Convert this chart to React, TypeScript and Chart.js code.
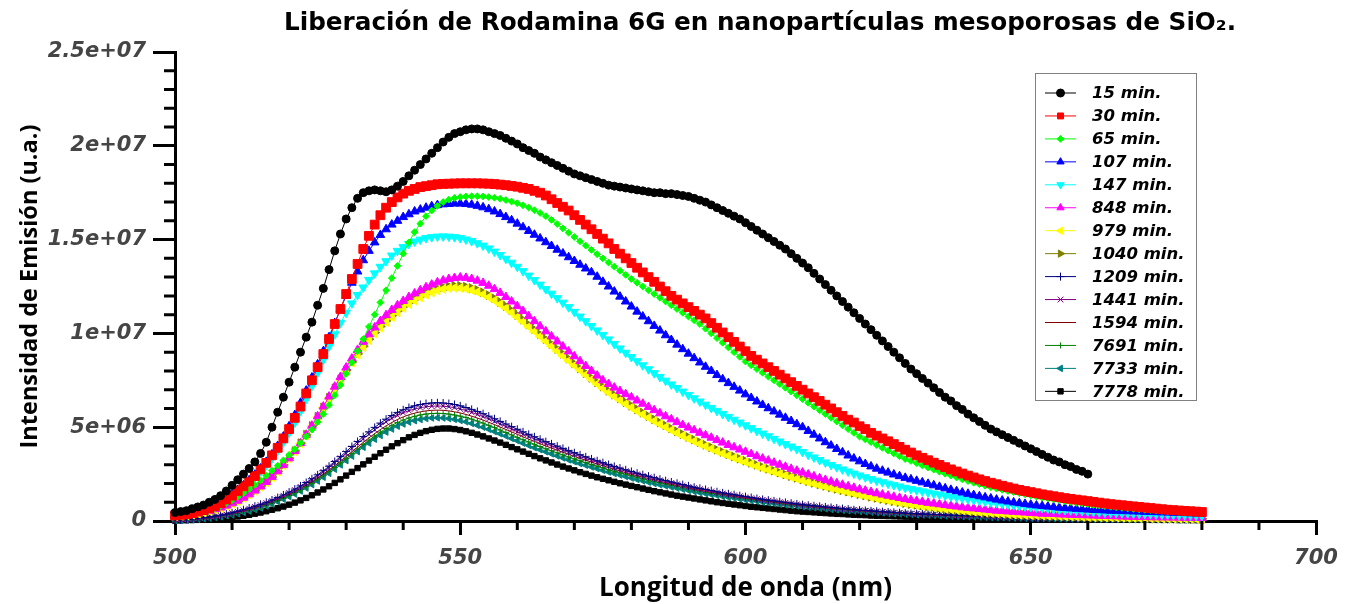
import { useEffect, useRef } from 'react';
import { Chart, registerables } from 'chart.js';
import { drawPoint } from 'chart.js/helpers';

Chart.register(...registerables);

const FONT_WIDE = '"DejaVu Sans", "Noto Sans", sans-serif';
const FONT_NARROW = '"Open Sans", "Noto Sans", "DejaVu Sans", sans-serif';

// Emission intensities are stored in units of 1e5 (u.a.), one value per nanometre.
const INTENSITY_UNIT = 1e5;

const wavelengths = [
  500, 501, 502, 503, 504, 505, 506, 507, 508, 509,
  510, 511, 512, 513, 514, 515, 516, 517, 518, 519,
  520, 521, 522, 523, 524, 525, 526, 527, 528, 529,
  530, 531, 532, 533, 534, 535, 536, 537, 538, 539,
  540, 541, 542, 543, 544, 545, 546, 547, 548, 549,
  550, 551, 552, 553, 554, 555, 556, 557, 558, 559,
  560, 561, 562, 563, 564, 565, 566, 567, 568, 569,
  570, 571, 572, 573, 574, 575, 576, 577, 578, 579,
  580, 581, 582, 583, 584, 585, 586, 587, 588, 589,
  590, 591, 592, 593, 594, 595, 596, 597, 598, 599,
  600, 601, 602, 603, 604, 605, 606, 607, 608, 609,
  610, 611, 612, 613, 614, 615, 616, 617, 618, 619,
  620, 621, 622, 623, 624, 625, 626, 627, 628, 629,
  630, 631, 632, 633, 634, 635, 636, 637, 638, 639,
  640, 641, 642, 643, 644, 645, 646, 647, 648, 649,
  650, 651, 652, 653, 654, 655, 656, 657, 658, 659,
  660, 661, 662, 663, 664, 665, 666, 667, 668, 669,
  670, 671, 672, 673, 674, 675, 676, 677, 678, 679,
  680,
];

const min15 = [
  4.5, 5, 5.5, 6.5, 7.5, 8.5, 10, 11.5, 13.5, 16,
  19, 22, 25, 28, 31.5, 36, 42, 50, 58, 66,
  74, 82, 90, 98, 106, 115, 124, 134, 144, 153,
  161, 167, 172, 175, 176, 176.5, 176, 175.5, 176.5, 178.5,
  181, 184, 187, 190, 193, 196, 199, 202, 204.5, 206.5,
  207.5, 208.5, 209, 209, 208.5, 207.5, 206.5, 205.5, 204, 202.5,
  201, 199, 197.5, 196, 194, 192.5, 191, 189.5, 188, 186.5,
  185, 184, 183, 182, 181, 180, 179, 178.5, 178, 177.5,
  177, 176.5, 176, 175.5, 175, 175, 174.5, 174.5, 174, 173.5,
  173, 172, 171, 170, 168.5, 167, 165.5, 164, 162.5, 161,
  159, 157, 155, 153, 151, 149, 147, 145, 142.5, 140,
  137.5, 135, 132, 129, 126, 123, 120, 117, 114, 111,
  108, 105, 102, 99, 96, 93, 90, 87, 84, 81,
  78.5, 76, 73.5, 71, 68.5, 66, 64, 61.5, 59.5, 57,
  55, 53, 51, 49, 47.5, 46, 44.5, 43, 41.5, 40,
  38.5, 37, 35.5, 34, 32.5, 31.5, 30, 29, 27.5, 26.5,
  25,
];

const min30 = [
  3, 3.3, 3.7, 4.2, 5, 5.8, 6.8, 8, 9.5, 11.5,
  13.5, 16, 18.5, 21, 24, 27.5, 31, 35, 39, 44,
  49, 55, 61, 68, 75, 82, 89, 97, 105, 113,
  121, 129, 137, 145, 152, 158, 163, 167, 170, 172.5,
  174.5, 176, 177, 178, 178.5, 179, 179.5, 179.7, 179.8, 179.9,
  180, 180, 180, 180, 179.9, 179.8, 179.6, 179.3, 179, 178.6,
  178.2, 177.6, 177, 176, 175, 173.5, 171.5, 169.5, 167.5, 165.5,
  163, 160.5, 158, 155.5, 153, 150.5, 148, 145, 142.5, 140,
  137.5, 135, 132.5, 130, 127.5, 125, 122.5, 120, 118, 116,
  114, 112, 110, 108, 105.5, 103, 100.5, 98, 95.5, 93,
  90.5, 88, 86, 84, 82, 80, 78, 76, 74, 72,
  70, 68, 66, 64, 62, 60, 58, 56, 54, 52.5,
  50.5, 49, 47, 45.5, 44, 42.5, 41, 39.5, 38, 36.5,
  35, 33.7, 32.4, 31.1, 29.9, 28.7, 27.5, 26.4, 25.3, 24.2,
  23.2, 22.2, 21.3, 20.4, 19.6, 18.8, 18, 17.3, 16.6, 16,
  15.4, 14.8, 14.2, 13.7, 13.2, 12.7, 12.2, 11.8, 11.4, 11,
  10.6, 10.2, 9.8, 9.4, 9, 8.7, 8.4, 8.1, 7.8, 7.5,
  7.2, 6.9, 6.6, 6.3, 6, 5.8, 5.6, 5.4, 5.2, 5,
  4.8,
];

const min65 = [
  2.5, 2.8, 3.2, 3.7, 4.3, 5, 5.8, 6.8, 8, 9.5,
  11, 12.8, 14.8, 17, 19.3, 21.7, 24.2, 26.8, 29.5, 32.3,
  35.2, 38.3, 41.5, 45, 48.7, 52.7, 57, 61.8, 67, 72.5,
  78.5, 84.5, 90.5, 97, 103.5, 110, 116.5, 123, 129.5, 136,
  142.5, 148.5, 154, 158.5, 162.5, 165.5, 168, 170, 171.3, 172.2,
  172.7, 173, 173.1, 173.1, 173, 172.7, 172.3, 171.8, 171.1, 170.3,
  169.4, 168.3, 167.1, 165.7, 164.2, 162.5, 160.5, 158.3, 156, 153.7,
  151.4, 149.1, 146.8, 144.5, 142.2, 140, 137.8, 135.6, 133.4, 131.2,
  129, 127, 125, 123, 121, 119, 117, 115, 113, 111,
  109, 107, 105, 102.5, 100, 97.5, 95, 92.5, 90, 87.5,
  85, 83, 81, 79, 77, 75, 73, 71, 69, 67,
  65, 63, 61, 59, 57, 55, 53, 51, 49, 47,
  45, 43.5, 42, 40.5, 39, 37.5, 36, 34.5, 33, 32,
  30.8, 29.6, 28.5, 27.4, 26.3, 25.2, 24.2, 23.2, 22.2, 21.3,
  20.4, 19.6, 18.8, 18, 17.3, 16.6, 16, 15.4, 14.8, 14.2,
  13.6, 13, 12.5, 12, 11.5, 11, 10.5, 10.1, 9.7, 9.3,
  8.9, 8.5, 8.2, 7.9, 7.6, 7.3, 7, 6.7, 6.4, 6.2,
  6, 5.8, 5.6, 5.4, 5.2, 5, 4.8, 4.7, 4.6, 4.5,
  4.4,
];

const min107 = [
  3.5, 3.9, 4.4, 5, 5.8, 6.7, 7.8, 9, 10.5, 12.3,
  14.3, 16.5, 19, 21.7, 24.7, 28, 31.5, 35.5, 40, 45,
  50.5, 56.5, 63, 69.5, 76.5, 83.5, 90.5, 98, 105.5, 113,
  120, 127, 133, 139, 144, 148.5, 152.5, 155.5, 158, 160,
  162, 163.5, 165, 166, 167, 167.8, 168.4, 168.8, 169, 169.2,
  169.2, 169, 168.6, 168, 167.2, 166.2, 165, 163.6, 162, 160.3,
  158.5, 156.6, 154.6, 152.6, 150.6, 148.6, 146.6, 144.6, 142.6, 140.6,
  138.6, 136.6, 134.6, 132.6, 130.2, 127.5, 125, 122.3, 119.6, 117,
  114.3, 111.6, 109, 106.5, 104, 101.5, 99, 96.5, 94, 91.6,
  89.2, 86.8, 84.5, 82.2, 80, 77.8, 75.6, 73.5, 71.5, 69.5,
  67.5, 65.6, 63.7, 61.9, 60.1, 58.4, 56.7, 55, 53.3, 51.6,
  50, 48, 46, 44, 42, 40.2, 38.4, 36.6, 34.9, 33.3,
  31.8, 30.4, 29.1, 27.9, 26.8, 25.8, 24.8, 23.9, 23, 22.2,
  21.4, 20.6, 19.8, 19, 18.2, 17.4, 16.6, 15.9, 15.2, 14.5,
  13.8, 13.2, 12.6, 12, 11.4, 10.9, 10.4, 9.9, 9.5, 9.1,
  8.7, 8.3, 8, 7.7, 7.4, 7.1, 6.9, 6.7, 6.5, 6.3,
  6.1, 5.9, 5.8, 5.6, 5.5, 5.4, 5.3, 5.2, 5.1, 5,
  4.9, 4.8, 4.7, 4.6, 4.5, 4.4, 4.3, 4.2, 4.1, 4,
  3.9,
];

const min147 = [
  4, 4.4, 4.9, 5.5, 6.2, 7, 8, 9.2, 10.6, 12.2,
  14, 16, 18.3, 20.8, 23.5, 26.5, 29.8, 33.4, 37.5, 42,
  47, 52.5, 58.5, 65, 72, 79, 86, 93, 99.5, 105.5,
  111, 116, 120.5, 124.5, 128.5, 132, 135.5, 138.5, 141.5, 144,
  146, 147.7, 149, 150, 150.8, 151.3, 151.6, 151.7, 151.6, 151.3,
  150.8, 150.1, 149.2, 148.1, 146.8, 145.3, 143.6, 141.8, 139.8, 137.7,
  135.5, 133.2, 130.8, 128.4, 126, 123.6, 121.2, 118.8, 116.4, 114,
  111.5, 109, 106.5, 104, 101.6, 99.2, 96.8, 94.4, 92, 89.7,
  87.4, 85.2, 83, 80.9, 78.8, 76.8, 74.8, 72.8, 70.9, 69,
  67.2, 65.4, 63.7, 62, 60.3, 58.7, 57.1, 55.5, 54, 52.5,
  51, 49.5, 48, 46.6, 45.2, 43.8, 42.4, 41, 39.7, 38.4,
  36.8, 35.3, 33.9, 32.5, 31.2, 29.9, 28.7, 27.5, 26.4, 25.3,
  24.3, 23.3, 22.4, 21.5, 20.7, 19.9, 19.1, 18.4, 17.7, 17,
  16.4, 15.8, 15.2, 14.6, 14.1, 13.6, 13.1, 12.6, 12.1, 11.6,
  11.2, 10.8, 10.4, 10, 9.6, 9.2, 8.8, 8.4, 8.1, 7.8,
  7.5, 7.2, 6.9, 6.6, 6.3, 6.1, 5.9, 5.7, 5.5, 5.3,
  5.1, 4.9, 4.7, 4.5, 4.4, 4.3, 4.2, 4.1, 4, 3.9,
  3.8, 3.7, 3.6, 3.5, 3.4, 3.3, 3.2, 3.1, 3, 2.9,
  2.8,
];

const min848 = [
  2.8, 3, 3.3, 3.7, 4.2, 4.8, 5.5, 6.3, 7.2, 8.2,
  9.4, 10.8, 12.4, 14.2, 16.2, 18.4, 20.8, 23.5, 26.5, 29.8,
  33.4, 37.3, 41.5, 46, 50.8, 55.8, 61, 66.3, 71.6, 76.8,
  81.8, 86.6, 91.2, 95.5, 99.5, 103.2, 106.6, 109.7, 112.5, 115,
  117.3, 119.4, 121.3, 123, 124.6, 126, 127.2, 128.2, 129, 129.5,
  129.8, 129.6, 129, 128.1, 126.9, 125.4, 123.6, 121.6, 119.4, 117,
  114.5, 111.9, 109.2, 106.5, 103.8, 101.1, 98.4, 95.7, 93, 90.4,
  87.8, 85.2, 82.6, 80, 77.5, 75, 73, 71.1, 69.3, 67.6,
  65.9, 64.2, 62.5, 60.8, 59.1, 57.4, 55.8, 54.2, 52.7, 51.2,
  49.8, 48.4, 47, 45.7, 44.4, 43.1, 41.8, 40.5, 39.3, 38.1,
  36.9, 35.7, 34.5, 33.3, 32.2, 31.1, 30, 28.9, 27.8, 26.8,
  25.8, 24.8, 23.8, 22.8, 21.9, 21, 20.1, 19.3, 18.5, 17.7,
  16.9, 16.2, 15.5, 14.8, 14.1, 13.5, 12.9, 12.3, 11.7, 11.2,
  10.7, 10.2, 9.7, 9.3, 8.9, 8.5, 8.1, 7.7, 7.3, 7,
  6.7, 6.4, 6.1, 5.8, 5.5, 5.3, 5.1, 4.9, 4.7, 4.5,
  4.3, 4.1, 3.9, 3.8, 3.7, 3.5, 3.4, 3.3, 3.2, 3.1,
  3, 2.9, 2.8, 2.7, 2.6, 2.5, 2.4, 2.3, 2.2, 2.2,
  2.1, 2, 2, 1.9, 1.9, 1.8, 1.8, 1.7, 1.7, 1.6,
  1.6,
];

const min979 = [
  2.5, 2.7, 3, 3.4, 3.9, 4.5, 5.2, 6, 6.9, 8,
  9.2, 10.6, 12.2, 14, 16, 18.2, 20.6, 23.3, 26.3, 29.6,
  33.2, 37.1, 41.3, 45.8, 50.5, 55.4, 60.4, 65.4, 70.4, 75.2,
  79.9, 84.4, 88.6, 92.6, 96.3, 99.8, 103, 106, 108.7, 111.2,
  113.5, 115.6, 117.4, 119.1, 120.6, 121.8, 122.8, 123.6, 124.1, 124.3,
  124.2, 123.8, 123.1, 122.1, 120.8, 119.3, 117.5, 115.5, 113.4, 111.1,
  108.7, 106.2, 103.6, 101, 98.4, 95.8, 93.2, 90.6, 88, 85.4,
  82.9, 80.4, 77.9, 75.4, 73, 70.7, 68.5, 66.4, 64.4, 62.4,
  60.5, 58.6, 56.8, 55, 53.3, 51.6, 50, 48.4, 46.9, 45.4,
  43.9, 42.5, 41.1, 39.8, 38.5, 37.2, 36, 34.8, 33.6, 32.5,
  31.4, 30.3, 29.2, 28.2, 27.2, 26.2, 25.2, 24.3, 23.4, 22.5,
  21.6, 20.7, 19.9, 19.1, 18.3, 17.5, 16.8, 16.1, 15.4, 14.7,
  14, 13.3, 12.7, 12.1, 11.5, 10.9, 10.3, 9.8, 9.3, 8.8,
  8.4, 8, 7.6, 7.2, 6.8, 6.5, 6.2, 5.9, 5.6, 5.3,
  5, 4.7, 4.5, 4.3, 4.1, 3.9, 3.7, 3.5, 3.3, 3.2,
  3.1, 3, 2.9, 2.8, 2.7, 2.6, 2.5, 2.4, 2.3, 2.2,
  2.1, 2, 2, 1.9, 1.9, 1.8, 1.8, 1.7, 1.7, 1.6,
  1.6, 1.5, 1.5, 1.4, 1.4, 1.3, 1.3, 1.2, 1.2, 1.1,
  1.1,
];

const min1040 = [
  2.6, 2.8, 3.1, 3.5, 4, 4.6, 5.3, 6.1, 7, 8.1,
  9.3, 10.7, 12.3, 14.1, 16.1, 18.3, 20.8, 23.5, 26.5, 29.8,
  33.4, 37.3, 41.5, 46, 50.7, 55.6, 60.6, 65.7, 70.7, 75.6,
  80.3, 84.8, 89.1, 93.1, 96.9, 100.4, 103.7, 106.7, 109.5, 112,
  114.3, 116.4, 118.3, 120, 121.5, 122.8, 123.9, 124.7, 125.2, 125.4,
  125.3, 124.9, 124.2, 123.2, 121.9, 120.4, 118.6, 116.6, 114.5, 112.2,
  109.8, 107.3, 104.7, 102.1, 99.5, 96.9, 94.3, 91.7, 89.1, 86.5,
  83.9, 81.3, 78.8, 76.3, 73.9, 71.6, 69.4, 67.3, 65.3, 63.3,
  61.4, 59.5, 57.7, 55.9, 54.2, 52.5, 50.9, 49.3, 47.8, 46.3,
  44.8, 43.4, 42, 40.6, 39.3, 38, 36.8, 35.6, 34.4, 33.2,
  32.1, 31, 29.9, 28.8, 27.8, 26.8, 25.8, 24.8, 23.9, 23,
  22.1, 21.2, 20.3, 19.5, 18.7, 17.9, 17.1, 16.4, 15.7, 15,
  14.3, 13.6, 12.9, 12.3, 11.7, 11.1, 10.5, 10, 9.5, 9,
  8.6, 8.2, 7.8, 7.4, 7, 6.6, 6.3, 6, 5.7, 5.4,
  5.1, 4.8, 4.6, 4.4, 4.2, 4, 3.8, 3.6, 3.4, 3.3,
  3.2, 3.1, 3, 2.9, 2.8, 2.7, 2.6, 2.5, 2.4, 2.3,
  2.2, 2.1, 2, 2, 1.9, 1.9, 1.8, 1.8, 1.7, 1.7,
  1.6, 1.6, 1.5, 1.5, 1.4, 1.4, 1.3, 1.3, 1.2, 1.2,
  1.2,
];

const min1209 = [
  0.5, 0.6, 0.8, 1, 1.3, 1.7, 2.1, 2.6, 3.1, 3.7,
  4.4, 5.2, 6, 6.9, 7.9, 8.9, 10, 11.2, 12.5, 13.9,
  15.4, 17, 18.7, 20.5, 22.5, 24.6, 26.8, 29.2, 31.7, 34.3,
  37, 39.7, 42.4, 45, 47.5, 49.9, 52.2, 54.3, 56.2, 57.9,
  59.3, 60.5, 61.4, 62.1, 62.6, 62.9, 63, 62.9, 62.6, 62.1,
  61.4, 60.5, 59.5, 58.4, 57.2, 55.9, 54.5, 53.1, 51.7, 50.3,
  48.9, 47.5, 46.2, 44.9, 43.6, 42.3, 41.1, 39.9, 38.7, 37.5,
  36.4, 35.3, 34.2, 33.1, 32.1, 31.1, 30.1, 29.1, 28.2, 27.3,
  26.4, 25.5, 24.7, 23.9, 23.1, 22.3, 21.5, 20.8, 20.1, 19.4,
  18.7, 18, 17.4, 16.8, 16.2, 15.6, 15, 14.5, 14, 13.5,
  13, 12.5, 12, 11.5, 11.1, 10.7, 10.3, 9.9, 9.5, 9.1,
  8.7, 8.4, 8.1, 7.8, 7.5, 7.2, 6.9, 6.6, 6.3, 6,
  5.8, 5.6, 5.4, 5.2, 5, 4.8, 4.6, 4.4, 4.2, 4,
  3.9, 3.8, 3.6, 3.5, 3.4, 3.2, 3.1, 3, 2.9, 2.8,
  2.7, 2.6, 2.5, 2.4, 2.3, 2.2, 2.1, 2, 1.9, 1.9,
  1.8, 1.7, 1.7, 1.6, 1.6, 1.5, 1.5, 1.4, 1.4, 1.3,
  1.3, 1.3, 1.2, 1.2, 1.2, 1.1, 1.1, 1.1, 1.1, 1,
  1, 1, 1, 0.9, 0.9, 0.9, 0.9, 0.9, 0.8, 0.8,
  0.8,
];

const min1441 = [
  0.5, 0.6, 0.7, 0.9, 1.2, 1.6, 2, 2.5, 3, 3.6,
  4.2, 4.9, 5.7, 6.6, 7.5, 8.5, 9.6, 10.8, 12.1, 13.5,
  15, 16.5, 18.2, 20, 21.9, 24, 26.2, 28.5, 31, 33.5,
  36.1, 38.7, 41.3, 43.8, 46.3, 48.6, 50.8, 52.8, 54.7, 56.3,
  57.7, 58.8, 59.7, 60.4, 60.9, 61.2, 61.3, 61.2, 60.9, 60.4,
  59.7, 58.9, 57.9, 56.8, 55.6, 54.4, 53.1, 51.7, 50.3, 49,
  47.6, 46.3, 45, 43.7, 42.5, 41.2, 40, 38.8, 37.7, 36.5,
  35.4, 34.3, 33.3, 32.3, 31.3, 30.3, 29.3, 28.4, 27.5, 26.6,
  25.7, 24.9, 24.1, 23.3, 22.5, 21.7, 21, 20.3, 19.6, 18.9,
  18.2, 17.6, 17, 16.4, 15.8, 15.2, 14.7, 14.2, 13.7, 13.2,
  12.7, 12.2, 11.7, 11.3, 10.9, 10.5, 10.1, 9.7, 9.3, 8.9,
  8.5, 8.2, 7.9, 7.6, 7.3, 7, 6.7, 6.4, 6.2, 5.9,
  5.7, 5.5, 5.3, 5.1, 4.9, 4.7, 4.5, 4.3, 4.1, 3.9,
  3.8, 3.7, 3.5, 3.4, 3.3, 3.1, 3, 2.9, 2.8, 2.7,
  2.6, 2.5, 2.4, 2.3, 2.2, 2.1, 2, 1.9, 1.8, 1.8,
  1.7, 1.6, 1.6, 1.5, 1.5, 1.4, 1.4, 1.3, 1.3, 1.2,
  1.2, 1.2, 1.1, 1.1, 1.1, 1, 1, 1, 1, 0.9,
  0.9, 0.9, 0.9, 0.8, 0.8, 0.8, 0.8, 0.8, 0.7, 0.7,
  0.7,
];

const min1594 = [
  0.4, 0.5, 0.7, 0.9, 1.1, 1.4, 1.8, 2.3, 2.8, 3.4,
  4, 4.7, 5.4, 6.2, 7.1, 8.1, 9.2, 10.4, 11.6, 12.9,
  14.3, 15.8, 17.4, 19.1, 20.9, 22.9, 25, 27.2, 29.5, 31.9,
  34.4, 36.9, 39.4, 41.9, 44.3, 46.6, 48.7, 50.7, 52.5, 54.1,
  55.5, 56.6, 57.5, 58.2, 58.7, 59, 59.1, 59, 58.7, 58.2,
  57.6, 56.8, 55.9, 54.9, 53.8, 52.6, 51.4, 50.1, 48.8, 47.5,
  46.2, 44.9, 43.6, 42.4, 41.2, 40, 38.8, 37.7, 36.6, 35.5,
  34.4, 33.4, 32.4, 31.4, 30.4, 29.5, 28.5, 27.6, 26.7, 25.8,
  25, 24.2, 23.4, 22.6, 21.9, 21.1, 20.4, 19.7, 19, 18.4,
  17.7, 17.1, 16.5, 15.9, 15.4, 14.8, 14.3, 13.8, 13.3, 12.8,
  12.3, 11.9, 11.4, 11, 10.6, 10.2, 9.8, 9.4, 9, 8.7,
  8.3, 8, 7.7, 7.4, 7.1, 6.8, 6.5, 6.3, 6, 5.8,
  5.5, 5.3, 5.1, 4.9, 4.7, 4.5, 4.3, 4.1, 4, 3.8,
  3.7, 3.5, 3.4, 3.3, 3.1, 3, 2.9, 2.8, 2.7, 2.6,
  2.5, 2.4, 2.3, 2.2, 2.1, 2, 1.9, 1.8, 1.8, 1.7,
  1.6, 1.6, 1.5, 1.5, 1.4, 1.4, 1.3, 1.3, 1.2, 1.2,
  1.1, 1.1, 1.1, 1, 1, 1, 1, 0.9, 0.9, 0.9,
  0.9, 0.8, 0.8, 0.8, 0.8, 0.8, 0.7, 0.7, 0.7, 0.7,
  0.7,
];

const min7691 = [
  0.4, 0.5, 0.6, 0.8, 1, 1.3, 1.7, 2.1, 2.6, 3.1,
  3.7, 4.3, 5, 5.8, 6.6, 7.5, 8.5, 9.6, 10.8, 12.1,
  13.5, 15, 16.6, 18.3, 20.1, 22, 24.1, 26.3, 28.6, 31,
  33.4, 35.9, 38.4, 40.8, 43.1, 45.3, 47.4, 49.3, 51, 52.5,
  53.8, 54.9, 55.8, 56.5, 57, 57.3, 57.4, 57.3, 57, 56.5,
  55.9, 55.2, 54.3, 53.3, 52.2, 51, 49.8, 48.5, 47.2, 45.9,
  44.6, 43.3, 42.1, 40.9, 39.7, 38.5, 37.4, 36.3, 35.2, 34.1,
  33.1, 32.1, 31.1, 30.1, 29.2, 28.3, 27.4, 26.5, 25.7, 24.9,
  24.1, 23.3, 22.5, 21.8, 21.1, 20.4, 19.7, 19, 18.4, 17.8,
  17.2, 16.6, 16, 15.4, 14.9, 14.4, 13.9, 13.4, 12.9, 12.4,
  11.9, 11.5, 11.1, 10.7, 10.3, 9.9, 9.5, 9.1, 8.7, 8.4,
  8.1, 7.8, 7.5, 7.2, 6.9, 6.6, 6.3, 6.1, 5.8, 5.6,
  5.4, 5.2, 5, 4.8, 4.6, 4.4, 4.2, 4, 3.9, 3.7,
  3.6, 3.4, 3.3, 3.2, 3, 2.9, 2.8, 2.7, 2.6, 2.5,
  2.4, 2.3, 2.2, 2.1, 2, 1.9, 1.8, 1.8, 1.7, 1.6,
  1.6, 1.5, 1.5, 1.4, 1.4, 1.3, 1.3, 1.2, 1.2, 1.1,
  1.1, 1.1, 1, 1, 1, 0.9, 0.9, 0.9, 0.9, 0.8,
  0.8, 0.8, 0.8, 0.8, 0.7, 0.7, 0.7, 0.7, 0.7, 0.6,
  0.6,
];

const min7733 = [
  0.3, 0.4, 0.5, 0.7, 0.9, 1.2, 1.5, 1.9, 2.3, 2.8,
  3.3, 3.9, 4.6, 5.3, 6.1, 7, 8, 9.1, 10.3, 11.6,
  13, 14.4, 16, 17.6, 19.4, 21.3, 23.3, 25.4, 27.6, 29.9,
  32.2, 34.6, 37, 39.3, 41.5, 43.6, 45.6, 47.4, 49, 50.5,
  51.7, 52.7, 53.5, 54.1, 54.6, 54.9, 55, 54.9, 54.6, 54.2,
  53.6, 52.9, 52, 51, 50, 48.9, 47.7, 46.5, 45.3, 44,
  42.8, 41.5, 40.3, 39.1, 38, 36.9, 35.8, 34.7, 33.6, 32.6,
  31.6, 30.6, 29.7, 28.8, 27.9, 27, 26.1, 25.3, 24.5, 23.7,
  22.9, 22.1, 21.4, 20.7, 20, 19.3, 18.7, 18.1, 17.5, 16.9,
  16.3, 15.7, 15.1, 14.6, 14.1, 13.6, 13.1, 12.6, 12.2, 11.7,
  11.3, 10.9, 10.5, 10.1, 9.7, 9.3, 8.9, 8.6, 8.3, 8,
  7.7, 7.4, 7.1, 6.8, 6.5, 6.2, 6, 5.7, 5.5, 5.3,
  5.1, 4.9, 4.7, 4.5, 4.3, 4.1, 3.9, 3.8, 3.6, 3.5,
  3.3, 3.2, 3.1, 3, 2.8, 2.7, 2.6, 2.5, 2.4, 2.3,
  2.2, 2.1, 2, 1.9, 1.9, 1.8, 1.7, 1.6, 1.6, 1.5,
  1.5, 1.4, 1.4, 1.3, 1.3, 1.2, 1.2, 1.1, 1.1, 1,
  1, 1, 1, 0.9, 0.9, 0.9, 0.8, 0.8, 0.8, 0.8,
  0.8, 0.7, 0.7, 0.7, 0.7, 0.7, 0.6, 0.6, 0.6, 0.6,
  0.6,
];

const min7778 = [
  0.2, 0.3, 0.4, 0.5, 0.6, 0.8, 1, 1.2, 1.4, 1.7,
  2, 2.4, 2.8, 3.3, 3.9, 4.5, 5.2, 6, 6.8, 7.7,
  8.7, 9.8, 11, 12.3, 13.7, 15.2, 16.8, 18.5, 20.3, 22.2,
  24.2, 26.2, 28.2, 30.2, 32.2, 34.2, 36.1, 38, 39.8, 41.5,
  43.1, 44.6, 45.9, 47, 47.9, 48.6, 49.1, 49.3, 49.3, 49,
  48.5, 47.8, 47, 46.1, 45.1, 44, 42.9, 41.8, 40.6, 39.4,
  38.2, 37, 35.8, 34.6, 33.4, 32.3, 31.2, 30.1, 29, 28,
  27, 26, 25.1, 24.2, 23.3, 22.5, 21.7, 20.9, 20.1, 19.4,
  18.7, 18, 17.3, 16.6, 15.9, 15.3, 14.7, 14.1, 13.5, 13,
  12.5, 12, 11.5, 11, 10.5, 10, 9.6, 9.2, 8.8, 8.4,
  8, 7.6, 7.3, 7, 6.7, 6.4, 6.1, 5.8, 5.5, 5.2,
  5, 4.8, 4.6, 4.4, 4.2, 4, 3.8, 3.7, 3.5, 3.3,
  3.2, 3.1, 2.9, 2.8, 2.7, 2.6, 2.5, 2.4, 2.3, 2.2,
  2.1, 2, 1.9, 1.8, 1.8, 1.7, 1.6, 1.6, 1.5, 1.5,
  1.4, 1.4, 1.3, 1.3, 1.2, 1.2, 1.2, 1.1, 1.1, 1.1,
  1, 1, 1, 1, 0.9, 0.9, 0.9, 0.9, 0.9, 0.8,
  0.8, 0.8, 0.8, 0.8, 0.7, 0.7, 0.7, 0.7, 0.7, 0.7,
  0.6, 0.6, 0.6, 0.6, 0.6, 0.6, 0.5, 0.5, 0.5, 0.5,
  0.5,
];

const seriesLabels = [
  '15 min.', '30 min.', '65 min.', '107 min.', '147 min.', '848 min.', '979 min.',
  '1040 min.', '1209 min.', '1441 min.', '1594 min.', '7691 min.', '7733 min.', '7778 min.',
];
const seriesValues = [
  min15, min30, min65, min107, min147, min848, min979,
  min1040, min1209, min1441, min1594, min7691, min7733, min7778,
];

const seriesColors = [
  '#000000', '#ff0000', '#00ff00', '#0000ff', '#00ffff', '#ff00ff', '#ffff00',
  '#808000', '#000080', '#800080', '#800000', '#008000', '#008080', '#000000',
];
const seriesMarkers = [
  { style: 'circle', radius: 4, rotation: 0 },
  { style: 'rect', radius: 6.2, rotation: 0 },
  { style: 'rectRot', radius: 3.4, rotation: 0 },
  { style: 'triangle', radius: 5, rotation: 0 },
  { style: 'triangle', radius: 5, rotation: 180 },
  { style: 'triangle', radius: 5, rotation: 0 },
  { style: 'triangle', radius: 5, rotation: 270 },
  { style: 'triangle', radius: 5, rotation: 90 },
  { style: 'cross', radius: 4, rotation: 0 },
  { style: 'crossRot', radius: 4, rotation: 0 },
  { style: 'circle', radius: 0, rotation: 0 },
  { style: 'cross', radius: 3, rotation: 0 },
  { style: 'triangle', radius: 3.8, rotation: 270 },
  { style: 'rect', radius: 3.8, rotation: 0 },
];

const TITLE = 'Liberación de Rodamina 6G en nanopartículas mesoporosas de SiO₂.';
const X_TITLE = 'Longitud de onda (nm)';
const Y_TITLE = 'Intensidad de Emisión (u.a.)';

const xTickValues = [500, 550, 600, 650, 700];
const xTickLabels = ['500', '550', '600', '650', '700'];
const yTickValues = [0, 5e6, 1e7, 1.5e7, 2e7, 2.5e7];
const yTickLabels = ['0', '5e+06', '1e+07', '1.5e+07', '2e+07', '2.5e+07'];
const xMinorTicks = [510, 520, 530, 540, 560, 570, 580, 590, 610, 620, 630, 640, 660, 670, 680, 690];
const yMinorTicks = [
  1e6, 2e6, 3e6, 4e6, 6e6, 7e6, 8e6, 9e6, 11e6, 12e6,
  13e6, 14e6, 16e6, 17e6, 18e6, 19e6, 21e6, 22e6, 23e6, 24e6,
];

const tickFont = { family: FONT_WIDE, size: 21, weight: 'bold' as const, style: 'italic' as const };

// Chart heading, centred a little right of the plot centre.
const headingPlugin = {
  id: 'heading',
  afterDraw(chart: any) {
    const { ctx } = chart;
    ctx.save();
    ctx.font = `bold 24.7px ${FONT_WIDE}`;
    ctx.fillStyle = '#000';
    ctx.textAlign = 'center';
    ctx.textBaseline = 'middle';
    ctx.fillText(TITLE, 760, 23.5);
    ctx.restore();
  },
};

// Short minor tick marks on both axes.
const minorTicksPlugin = {
  id: 'minorTicks',
  afterDraw(chart: any) {
    const { ctx, scales, chartArea } = chart;
    ctx.save();
    ctx.strokeStyle = '#000';
    ctx.lineWidth = 3;
    ctx.beginPath();
    xMinorTicks.forEach((v) => {
      const px = scales.x.getPixelForValue(v);
      ctx.moveTo(px, chartArea.bottom);
      ctx.lineTo(px, chartArea.bottom + 9);
    });
    yMinorTicks.forEach((v) => {
      const py = scales.y.getPixelForValue(v);
      ctx.moveTo(chartArea.left, py);
      ctx.lineTo(chartArea.left - 11, py);
    });
    ctx.stroke();
    ctx.restore();
  },
};

// Framed legend placed inside the plot, at the upper right.
const insetLegendPlugin = {
  id: 'insetLegend',
  afterDraw(chart: any) {
    const { ctx } = chart;
    const boxLeft = 1035.5;
    const boxTop = 73.5;
    const boxWidth = 161;
    const boxHeight = 327;
    const rowTop = 93;
    const rowStep = 22.95;
    ctx.save();
    ctx.fillStyle = '#ffffff';
    ctx.fillRect(boxLeft, boxTop, boxWidth, boxHeight);
    ctx.strokeStyle = '#808080';
    ctx.lineWidth = 1;
    ctx.strokeRect(boxLeft, boxTop, boxWidth, boxHeight);
    ctx.font = `italic bold 16.5px ${FONT_WIDE}`;
    ctx.textBaseline = 'middle';
    ctx.textAlign = 'left';
    chart.data.datasets.forEach((ds: any, i: number) => {
      const cy = rowTop + i * rowStep;
      ctx.strokeStyle = ds.borderColor;
      ctx.lineWidth = 1;
      ctx.beginPath();
      ctx.moveTo(1045, cy);
      ctx.lineTo(1076, cy);
      ctx.stroke();
      if (ds.pointRadius > 0) {
        ctx.fillStyle = ds.pointBackgroundColor;
        ctx.strokeStyle = ds.pointBorderColor;
        drawPoint(ctx, { pointStyle: ds.pointStyle, rotation: ds.pointRotation, radius: Math.min(ds.pointRadius, 4.2), borderWidth: 1 }, 1060.5, cy);
      }
      ctx.fillStyle = '#000';
      ctx.fillText(ds.label, 1092, cy + 1);
    });
    ctx.restore();
  },
};

export default function App() {
  const canvasRef = useRef<HTMLCanvasElement>(null);

  useEffect(() => {
    const canvas = canvasRef.current;
    if (!canvas) return;

    const datasets = seriesLabels.map((label, i) => ({
      label,
      data: seriesValues[i].map((v, j) => ({ x: wavelengths[j], y: v * INTENSITY_UNIT })),
      borderColor: seriesColors[i],
      backgroundColor: seriesColors[i],
      pointBackgroundColor: seriesColors[i],
      pointBorderColor: seriesColors[i],
      borderWidth: 1,
      pointRadius: seriesMarkers[i].radius,
      pointStyle: seriesMarkers[i].style,
      pointRotation: seriesMarkers[i].rotation,
      pointBorderWidth: 1,
      tension: 0,
      fill: false,
      clip: false as const,
    }));

    const chart = new Chart(canvas, {
      type: 'line',
      data: { datasets },
      options: {
        responsive: false,
        animation: false,
        events: [],
        layout: { padding: { left: 0, right: 37, top: 52, bottom: 0 } },
        plugins: {
          legend: { display: false },
          tooltip: { enabled: false },
          title: { display: false },
        },
        scales: {
          x: {
            type: 'linear',
            min: 500,
            max: 700,
            afterFit: (scale: any) => { scale.height = 83; },
            afterBuildTicks: (scale: any) => { scale.ticks = xTickValues.map((value) => ({ value })); },
            ticks: {
              callback: (v: any) => xTickLabels[xTickValues.indexOf(Number(v))] ?? '',
              font: tickFont,
              color: '#454545',
              padding: 11,
              maxRotation: 0,
              autoSkip: false,
            },
            grid: { drawOnChartArea: false, drawTicks: true, tickLength: 14, color: '#000', lineWidth: 3 },
            border: { display: true, color: '#000', width: 3 },
            title: {
              display: true,
              text: X_TITLE,
              color: '#000',
              font: { family: FONT_NARROW, size: 26, weight: 'bold' },
              padding: { top: 0, bottom: 0 },
            },
          },
          y: {
            type: 'linear',
            min: 0,
            max: 2.5e7,
            afterFit: (scale: any) => { scale.width = 175; },
            afterBuildTicks: (scale: any) => { scale.ticks = yTickValues.map((value) => ({ value })); },
            ticks: {
              callback: (v: any) => yTickLabels[yTickValues.indexOf(Number(v))] ?? '',
              font: tickFont,
              color: '#454545',
              padding: 7,
              autoSkip: false,
            },
            grid: { drawOnChartArea: false, drawTicks: true, tickLength: 22, color: '#000', lineWidth: 3 },
            border: { display: true, color: '#000', width: 3 },
            title: {
              display: true,
              text: Y_TITLE,
              color: '#000',
              font: { family: FONT_NARROW, size: 23.5, weight: 'bold' },
              padding: { top: 16, bottom: 0 },
            },
          },
        },
      },
      plugins: [headingPlugin, minorTicksPlugin, insetLegendPlugin],
    } as any);

    return () => chart.destroy();
  }, []);

  return (
    <div style={{ position: 'absolute', left: 0, top: 0, width: 1353, height: 604, background: '#ffffff' }}>
      <canvas ref={canvasRef} width={1353} height={604} style={{ display: 'block', width: 1353, height: 604 }} />
    </div>
  );
}
